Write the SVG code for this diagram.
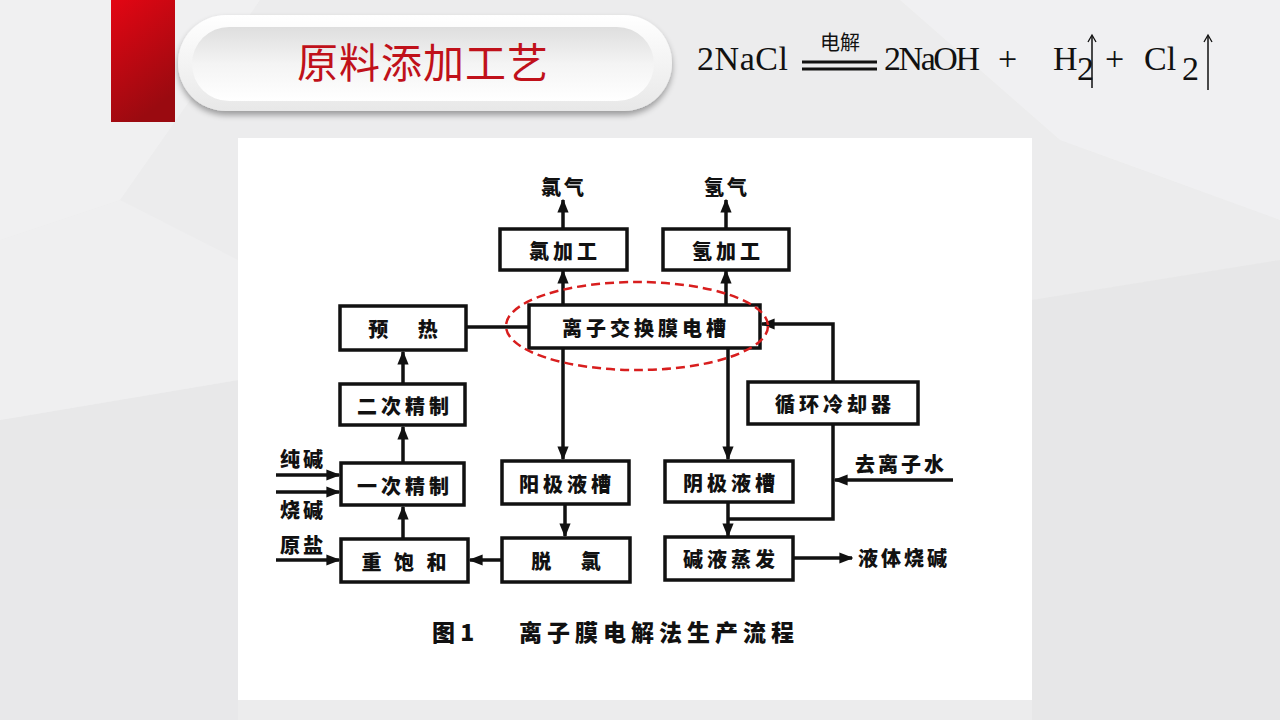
<svg xmlns="http://www.w3.org/2000/svg" width="1280" height="720" viewBox="0 0 1280 720">
<defs>
<linearGradient id="redbar" x1="0" y1="0" x2="0.4" y2="1">
<stop offset="0" stop-color="#e30613"/>
<stop offset="1" stop-color="#9a0a10"/>
</linearGradient>
<linearGradient id="pillIn" x1="0" y1="0" x2="0" y2="1">
<stop offset="0" stop-color="#dedede"/>
<stop offset="0.5" stop-color="#f4f4f4"/>
<stop offset="1" stop-color="#ffffff"/>
</linearGradient>
<linearGradient id="pillOut" x1="0" y1="0" x2="0" y2="1">
<stop offset="0" stop-color="#ffffff"/>
<stop offset="1" stop-color="#e8e8e8"/>
</linearGradient>
<filter id="sh" x="-10%" y="-30%" width="120%" height="160%">
<feGaussianBlur in="SourceAlpha" stdDeviation="3"/>
<feOffset dy="4"/>
<feComponentTransfer><feFuncA type="linear" slope="0.35"/></feComponentTransfer>
<feMerge><feMergeNode/><feMergeNode in="SourceGraphic"/></feMerge>
</filter>
<marker id="ah" viewBox="0 0 10 10" refX="9" refY="5" markerWidth="4" markerHeight="4" orient="auto-start-reverse">
<path d="M0,1 L10,5 L0,9 Z" fill="#111"/>
</marker>
</defs>
<style>
.box{fill:#fff;stroke:#111;stroke-width:3.5}
.bt{font-family:"Noto Sans CJK SC","Noto Sans CJK JP",sans-serif;font-weight:900;font-size:20px;fill:#111;text-anchor:middle;dominant-baseline:central;letter-spacing:4px}
.lbl{font-family:"Noto Sans CJK SC","Noto Sans CJK JP",sans-serif;font-weight:900;font-size:20px;fill:#111;dominant-baseline:central;letter-spacing:3px}
.ln{fill:none;stroke:#111;stroke-width:3.5}
.eq{font-family:"Liberation Serif","DejaVu Serif",serif;font-size:34px;fill:#111}
</style>
<rect width="1280" height="720" fill="#ececed"/>
<g opacity="0.6">
<polygon points="0,0 260,0 120,200 0,240" fill="#f3f3f4"/>
<polygon points="900,0 1280,0 1280,220 1060,140" fill="#f4f4f5"/>
<polygon points="0,420 238,380 238,720 0,720" fill="#e6e6e7"/>
<polygon points="1032,300 1280,260 1280,720 1032,720" fill="#e4e4e5"/>
<polygon points="0,240 120,200 238,260 238,380 0,420" fill="#f1f1f2"/>
</g>
<rect x="111" y="0" width="64" height="122" fill="url(#redbar)"/>
<g id="title">
<rect x="178" y="15" width="494" height="96" rx="48" fill="url(#pillOut)" filter="url(#sh)"/>
<rect x="192" y="27" width="462" height="74" rx="37" fill="url(#pillIn)"/>
<text x="423" y="78" font-family="Noto Sans CJK SC, sans-serif" font-size="41" fill="#c0111a" text-anchor="middle" letter-spacing="1">原料添加工艺</text>
</g>
<g id="equation">
<text class="eq" x="697" y="70" textLength="91">2NaCl</text>
<text x="840" y="50" font-family="Noto Sans CJK SC, sans-serif" font-size="20" fill="#111" text-anchor="middle">电解</text>
<line x1="802" y1="62" x2="877" y2="62" stroke="#111" stroke-width="3"/>
<line x1="802" y1="69" x2="877" y2="69" stroke="#111" stroke-width="3"/>
<text class="eq" x="884" y="70" textLength="96">2NaOH</text>
<text class="eq" x="998" y="70">+</text>
<text class="eq" x="1053" y="70" textLength="19">H</text>
<text class="eq" x="1077" y="80" font-size="20">2</text>
<line x1="1092" y1="88" x2="1092" y2="36" stroke="#111" stroke-width="1.5"/>
<path d="M1088,42 L1092,35 L1096,42" fill="none" stroke="#111" stroke-width="1.3"/>
<text class="eq" x="1105" y="70">+</text>
<text class="eq" x="1144" y="70">Cl</text>
<text class="eq" x="1182" y="80" font-size="20">2</text>
<line x1="1208" y1="90" x2="1208" y2="36" stroke="#111" stroke-width="1.5"/>
<path d="M1204,42 L1208,35 L1212,42" fill="none" stroke="#111" stroke-width="1.3"/>
</g>
<rect x="238" y="138" width="794" height="562" fill="#fff"/>
<g id="connectors">
<line class="ln" x1="563" y1="229" x2="563" y2="200" marker-end="url(#ah)"/>
<line class="ln" x1="726" y1="229" x2="726" y2="200" marker-end="url(#ah)"/>
<line class="ln" x1="563" y1="305" x2="563" y2="271" marker-end="url(#ah)"/>
<line class="ln" x1="726" y1="305" x2="726" y2="271" marker-end="url(#ah)"/>
<line class="ln" x1="466" y1="327" x2="529" y2="327"/>
<polyline class="ln" points="728,519 833,519 833,424"/>
<polyline class="ln" points="833,382 833,324 762,324" marker-end="url(#ah)"/>
<line class="ln" x1="953" y1="480" x2="835" y2="480" marker-end="url(#ah)"/>
<line class="ln" x1="563" y1="349" x2="563" y2="459" marker-end="url(#ah)"/>
<line class="ln" x1="728" y1="349" x2="728" y2="459" marker-end="url(#ah)"/>
<line class="ln" x1="728" y1="503" x2="728" y2="536" marker-end="url(#ah)"/>
<line class="ln" x1="793" y1="558" x2="852" y2="558" marker-end="url(#ah)"/>
<line class="ln" x1="565" y1="505" x2="565" y2="536" marker-end="url(#ah)"/>
<line class="ln" x1="502" y1="560" x2="470" y2="560" marker-end="url(#ah)"/>
<line class="ln" x1="403" y1="539" x2="403" y2="507" marker-end="url(#ah)"/>
<line class="ln" x1="403" y1="463" x2="403" y2="427" marker-end="url(#ah)"/>
<line class="ln" x1="403" y1="384" x2="403" y2="352" marker-end="url(#ah)"/>
<line class="ln" x1="276" y1="475" x2="339" y2="475" marker-end="url(#ah)"/>
<line class="ln" x1="276" y1="492" x2="339" y2="492" marker-end="url(#ah)"/>
<line class="ln" x1="276" y1="560" x2="339" y2="560" marker-end="url(#ah)"/>
</g>
<g id="labels">
<text class="lbl" x="541" y="186">氯气</text>
<text class="lbl" x="704" y="186">氢气</text>
<text class="lbl" x="280" y="458">纯碱</text>
<text class="lbl" x="280" y="509">烧碱</text>
<text class="lbl" x="280" y="544">原盐</text>
<text class="lbl" x="855" y="463">去离子水</text>
<text class="lbl" x="858" y="557">液体烧碱</text>
</g>
<g id="n-cljg"><rect class="box" x="500" y="229" width="127" height="41"/><text class="bt" x="565" y="250">氯加工</text></g>
<g id="n-hjg"><rect class="box" x="663" y="229" width="126" height="41"/><text class="bt" x="728" y="250">氢加工</text></g>
<g id="n-yr"><rect class="box" x="340" y="306" width="126" height="44"/><text class="bt" x="405" y="328" xml:space="preserve">预   热</text></g>
<g id="n-dc"><rect class="box" x="529" y="305" width="231" height="43"/><text class="bt" x="646" y="327">离子交换膜电槽</text></g>
<g id="n-xh"><rect class="box" x="748" y="382" width="170" height="42"/><text class="bt" x="835" y="403">循环冷却器</text></g>
<g id="n-ecjz"><rect class="box" x="340" y="384" width="125" height="41"/><text class="bt" x="405" y="405">二次精制</text></g>
<g id="n-ycjz"><rect class="box" x="341" y="463" width="123" height="42"/><text class="bt" x="405" y="485">一次精制</text></g>
<g id="n-yjyc"><rect class="box" x="502" y="461" width="127" height="43"/><text class="bt" x="567" y="483">阳极液槽</text></g>
<g id="n-yjyc2"><rect class="box" x="665" y="461" width="128" height="41"/><text class="bt" x="731" y="482">阴极液槽</text></g>
<g id="n-tl"><rect class="box" x="502" y="538" width="128" height="44"/><text class="bt" x="568" y="560" xml:space="preserve">脱   氯</text></g>
<g id="n-cbh"><rect class="box" x="341" y="539" width="127" height="43"/><text class="bt" x="406" y="561" xml:space="preserve">重 饱 和</text></g>
<g id="n-jyzf"><rect class="box" x="665" y="537" width="128" height="43"/><text class="bt" x="731" y="558">碱液蒸发</text></g>
<ellipse cx="637" cy="326" rx="131" ry="44" fill="none" stroke="#d81e1e" stroke-width="2.5" stroke-dasharray="9,5"/>
<g id="caption" font-family="Noto Sans CJK SC, sans-serif" font-weight="900" font-size="23" fill="#111">
<text x="432" y="641" xml:space="preserve">图 1</text>
<text x="519" y="641" letter-spacing="5">离子膜电解法生产流程</text>
</g>
</svg>
